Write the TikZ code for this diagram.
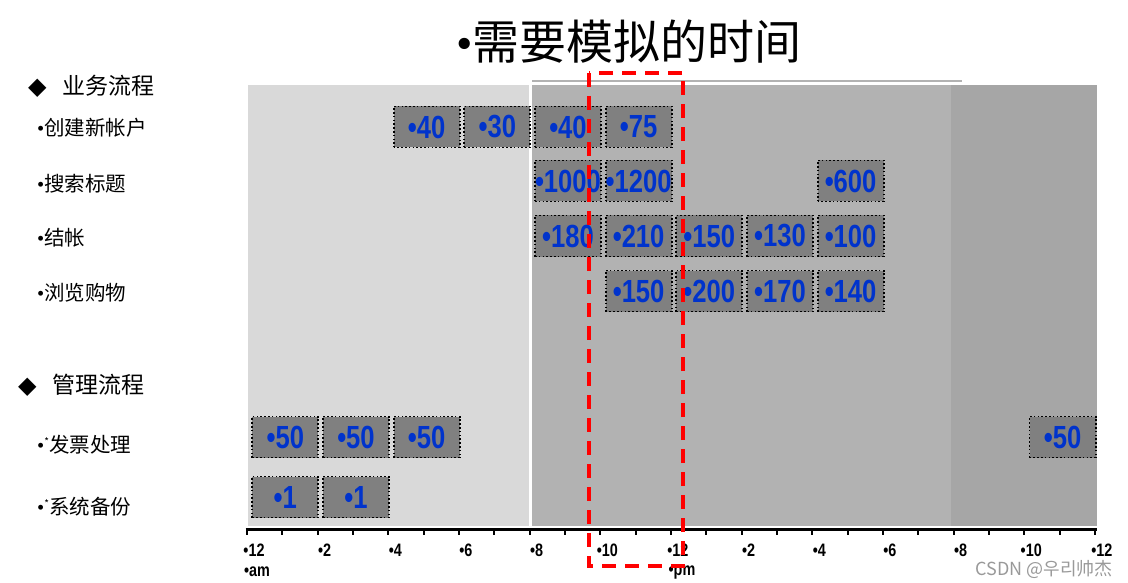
\documentclass[tikz,border=0pt]{standalone}
\usepackage{fontspec}
\setmainfont{Liberation Sans}
\newfontfamily\cjk{Noto Sans CJK SC}
\newfontfamily\krfont{Noto Sans CJK KR}
\newfontfamily\djsans{DejaVu Sans}
\newfontfamily\lserif{Liberation Serif}
\definecolor{lightbg}{HTML}{D9D9D9}
\definecolor{midbg}{HTML}{B2B2B2}
\definecolor{darkbg}{HTML}{A6A6A6}
\definecolor{boxfill}{HTML}{808080}
\definecolor{valblue}{HTML}{0033CC}
\newcommand{\val}[1]{\scalebox{0.8}[1]{\bfseries\fontsize{32}{32}\selectfont •#1}}
\newcommand{\ax}[1]{\scalebox{0.8}[1]{\bfseries\fontsize{18}{18}\selectfont •#1}}
\newcommand{\bul}{{\lserif•}}
\newcommand{\smallast}{\raisebox{0.35em}{\fontsize{10}{10}\selectfont *}}
\newcommand{\dmd}{{\djsans\fontsize{24}{24}\selectfont ◆}}
\tikzset{
  tbox/.style={draw=black, fill=boxfill, line width=1.8pt, dash pattern=on 1.6pt off 2.2pt,
    minimum width=66pt, minimum height=41pt, inner sep=0pt, text=valblue, anchor=center},
  rowlabel/.style={anchor=west, inner sep=0pt, font=\cjk\fontsize{20.5}{20.5}\selectfont},
  grouplabel/.style={anchor=west, inner sep=0pt, font=\cjk\fontsize{23}{23}\selectfont},
  axlabel/.style={anchor=center, inner sep=0pt},
  reddash/.style={draw=red, line width=3.5pt, dash pattern=on 14pt off 9pt},
}
\begin{document}
\begin{tikzpicture}[x=1pt,y=-1pt]
\useasboundingbox (0,0) rectangle (1128,583);
% backgrounds
\fill[lightbg] (248,85) rectangle (529,526);
\fill[midbg] (532,85) rectangle (951,526);
\fill[darkbg] (951,85) rectangle (1097,526);
\draw[midbg, line width=2pt] (532,81.5) -- (962,81.5);
% title
\node[inner sep=0pt] (title) at (629,42) {\cjk\fontsize{47}{47}\selectfont {\lserif•}需要模拟的时间};
% left labels
\node[grouplabel] (g1) at (28,86) {\dmd\hspace{16pt}业务流程};
\node[rowlabel] (l1) at (37,128) {\bul 创建新帐户};
\node[rowlabel] (l2) at (37,184) {\bul 搜索标题};
\node[rowlabel] (l3) at (37,238) {\bul 结帐};
\node[rowlabel] (l4) at (37,293) {\bul 浏览购物};
\node[grouplabel] (g2) at (18,385) {\dmd\hspace{16pt}管理流程};
\node[rowlabel] (l5) at (37,445) {\bul\smallast 发票处理};
\node[rowlabel] (l6) at (37,507) {\bul\smallast 系统备份};
% boxes: center x = 247 + 35.33*(h+1) + 3
\def\hx#1{250+35.33*(#1+1)}
\node[tbox] (a1) at ({\hx{4}},127) {\val{40}};
\node[tbox] (a2) at ({\hx{6}},127) {\val{30}};
\node[tbox] (a3) at ({\hx{8}},127) {\val{40}};
\node[tbox] (a4) at ({\hx{10}},127) {\val{75}};
\node[tbox] (b1) at ({\hx{8}},181) {\val{1000}};
\node[tbox] (b2) at ({\hx{10}},181) {\val{1200}};
\node[tbox] (b3) at ({\hx{16}},181) {\val{600}};
\node[tbox] (c1) at ({\hx{8}},236) {\val{180}};
\node[tbox] (c2) at ({\hx{10}},236) {\val{210}};
\node[tbox] (c3) at ({\hx{12}},236) {\val{150}};
\node[tbox] (c4) at ({\hx{14}},236) {\val{130}};
\node[tbox] (c5) at ({\hx{16}},236) {\val{100}};
\node[tbox] (d1) at ({\hx{10}},291) {\val{150}};
\node[tbox] (d2) at ({\hx{12}},291) {\val{200}};
\node[tbox] (d3) at ({\hx{14}},291) {\val{170}};
\node[tbox] (d4) at ({\hx{16}},291) {\val{140}};
\node[tbox] (e1) at ({\hx{0}},437) {\val{50}};
\node[tbox] (e2) at ({\hx{2}},437) {\val{50}};
\node[tbox] (e3) at ({\hx{4}},437) {\val{50}};
\node[tbox] (e4) at ({\hx{22}},437) {\val{50}};
\node[tbox] (f1) at ({\hx{0}},497) {\val{1}};
\node[tbox] (f2) at ({\hx{2}},497) {\val{1}};
% axis
\draw[line width=3pt] (245.5,529) -- (1097,529);
\foreach \h in {0,...,24} {
  \draw[line width=2pt] ({247+35.33*\h},529) -- ({247+35.33*\h},535);
}
\foreach \h/\t in {0/12,2/2,4/4,6/6,8/8,10/10,12/12,14/2,16/4,18/6,20/8,22/10,24/12} {
  \node[axlabel] (t\h) at ({247+35.33*\h+7},550) {\ax{\t}};
}
\node[axlabel] (am) at (257,572) {\ax{am}};
\node[axlabel] (pm) at (682,573) {\ax{pm}};
% red dashed window
\draw[reddash] (589,73) rectangle (683,566);
% watermark
\node[anchor=east, inner sep=0pt, text=black!40] (wm) at (1113,569) {\krfont\fontsize{18}{18}\selectfont CSDN @우리帅杰};
\end{tikzpicture}
\end{document}
